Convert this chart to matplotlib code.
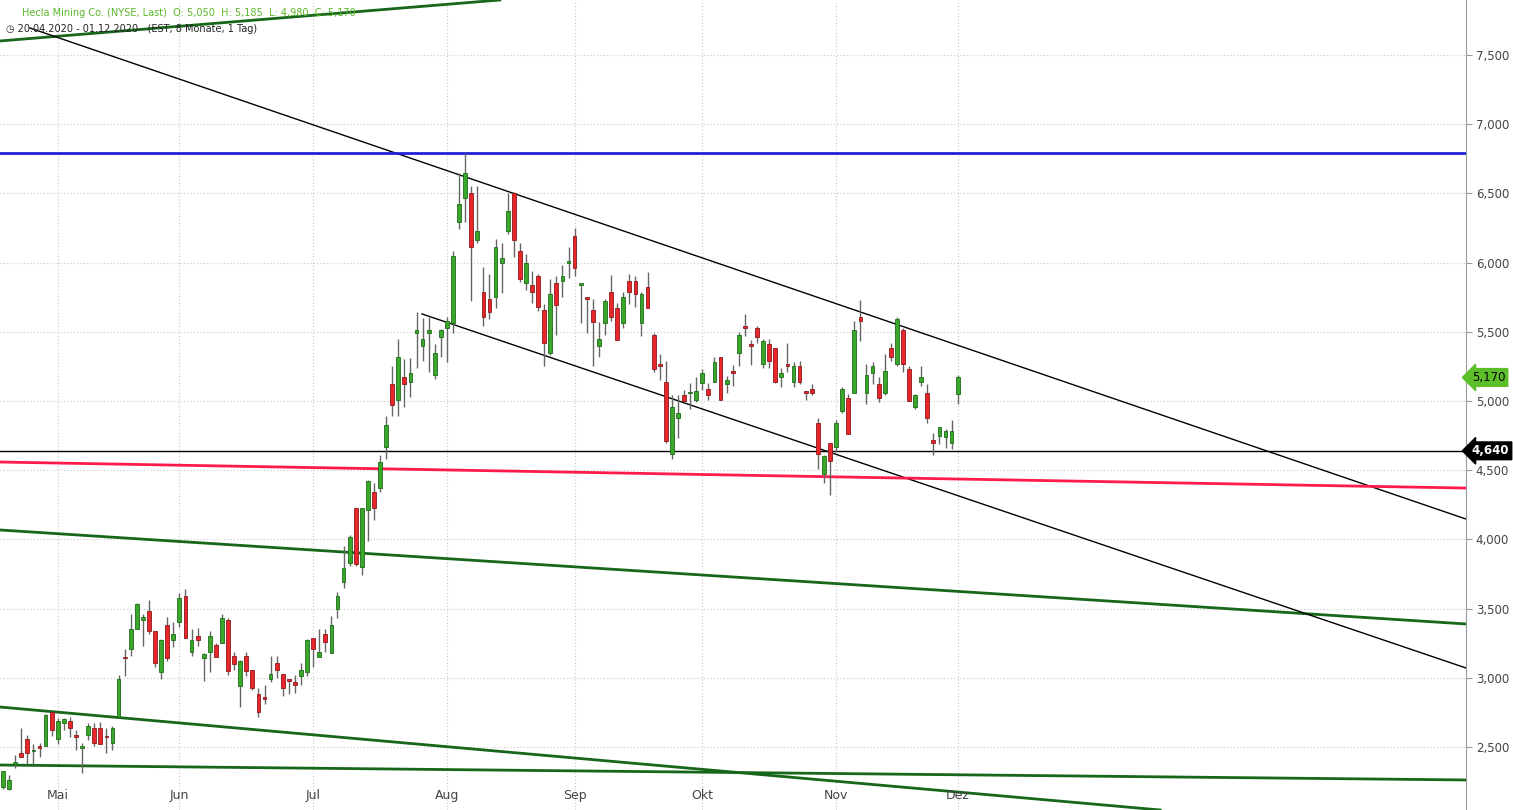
import matplotlib
matplotlib.use("Agg")
import matplotlib.pyplot as plt
import numpy as np

ohlc = [
(2.21,2.33,2.20,2.33),(2.20,2.30,2.19,2.26),(2.38,2.44,2.35,2.39),(2.46,2.64,2.43,2.43),(2.56,2.59,2.38,2.46),
(2.47,2.52,2.38,2.48),(2.51,2.53,2.43,2.49),(2.51,2.74,2.51,2.73),(2.75,2.76,2.58,2.62),(2.56,2.71,2.52,2.69),
(2.67,2.71,2.62,2.70),(2.69,2.72,2.57,2.64),(2.59,2.62,2.48,2.57),(2.49,2.53,2.31,2.51),(2.59,2.67,2.55,2.65),
(2.64,2.67,2.51,2.53),(2.64,2.68,2.52,2.52),(2.575,2.64,2.46,2.57),(2.53,2.65,2.48,2.64),(2.72,3.02,2.72,2.99),
(3.145,3.21,3.01,3.14),(3.21,3.46,3.16,3.35),(3.35,3.54,3.35,3.53),(3.42,3.46,3.23,3.44),(3.48,3.56,3.32,3.34),
(3.34,3.34,3.08,3.11),(3.04,3.28,2.99,3.27),(3.38,3.44,3.12,3.14),(3.27,3.40,3.22,3.32),(3.40,3.61,3.37,3.58),
(3.59,3.64,3.29,3.29),(3.19,3.35,3.16,3.27),(3.30,3.36,3.23,3.27),(3.14,3.18,2.98,3.17),(3.19,3.34,3.04,3.30),
(3.24,3.25,3.15,3.15),(3.25,3.46,3.25,3.43),(3.42,3.43,3.02,3.05),(3.16,3.19,3.06,3.10),(2.94,3.13,2.79,3.12),
(3.16,3.19,3.01,3.05),(3.06,3.06,2.91,2.93),(2.88,2.93,2.72,2.75),(2.855,2.95,2.81,2.85),(2.99,3.16,2.97,3.03),
(3.11,3.16,3.00,3.06),(3.03,3.03,2.87,2.93),(2.985,2.99,2.88,2.98),(2.97,3.02,2.89,2.95),(3.01,3.11,2.95,3.06),
(3.04,3.28,3.01,3.27),(3.29,3.29,3.08,3.21),(3.15,3.35,3.15,3.19),(3.32,3.35,3.19,3.26),(3.18,3.45,3.18,3.38),
(3.50,3.62,3.43,3.59),(3.69,3.95,3.65,3.79),(3.83,4.03,3.81,4.02),(4.23,4.23,3.81,3.82),(3.80,4.23,3.74,4.23),
(4.21,4.43,3.99,4.42),(4.34,4.41,4.14,4.23),(4.37,4.61,4.34,4.56),(4.67,4.89,4.58,4.83),(5.12,5.25,4.89,4.97),
(5.01,5.45,4.89,5.32),(5.17,5.30,4.96,5.12),(5.14,5.31,5.03,5.20),(5.49,5.64,5.24,5.51),(5.40,5.60,5.29,5.45),
(5.49,5.61,5.21,5.51),(5.19,5.41,5.16,5.35),(5.46,5.52,5.32,5.51),(5.53,5.61,5.28,5.58),(5.56,6.08,5.49,6.05),
(6.29,6.65,6.24,6.42),(6.47,6.79,6.29,6.65),(6.50,6.55,5.72,6.11),(6.16,6.55,6.14,6.23),(5.79,5.97,5.54,5.61),
(5.74,5.92,5.59,5.64),(5.75,6.17,5.67,6.11),(6.00,6.14,5.78,6.03),(6.23,6.50,6.21,6.37),(6.50,6.51,6.04,6.16),
(6.08,6.14,5.86,5.88),(5.85,6.06,5.80,6.00),(5.84,5.94,5.71,5.79),(5.90,5.92,5.65,5.68),(5.66,5.70,5.25,5.42),
(5.35,5.88,5.33,5.77),(5.85,5.90,5.48,5.69),(5.87,5.98,5.75,5.90),(6.00,6.11,5.89,6.01),(6.19,6.25,5.90,5.96),
(5.84,5.845,5.56,5.845),(5.745,5.75,5.49,5.74),(5.66,5.74,5.25,5.57),(5.40,5.57,5.32,5.45),(5.56,5.74,5.48,5.72),
(5.79,5.91,5.58,5.61),(5.67,5.71,5.44,5.44),(5.56,5.79,5.53,5.75),(5.87,5.92,5.70,5.79),(5.87,5.90,5.68,5.77),
(5.56,5.79,5.47,5.77),(5.82,5.93,5.67,5.67),(5.48,5.49,5.21,5.23),(5.27,5.34,5.15,5.25),(5.14,5.29,4.70,4.71),
(4.62,5.04,4.58,4.96),(4.88,5.04,4.73,4.91),(5.04,5.08,4.99,5.00),(5.055,5.13,4.94,5.065),(5.01,5.17,4.99,5.07),
(5.13,5.23,5.08,5.20),(5.09,5.13,5.01,5.04),(5.14,5.32,5.14,5.28),(5.32,5.32,5.01,5.01),(5.12,5.18,5.06,5.15),
(5.22,5.26,5.11,5.20),(5.35,5.50,5.25,5.48),(5.54,5.63,5.47,5.53),(5.41,5.44,5.26,5.40),(5.53,5.54,5.42,5.46),
(5.27,5.45,5.24,5.43),(5.41,5.45,5.24,5.29),(5.38,5.38,5.13,5.14),(5.17,5.24,5.10,5.20),(5.27,5.42,5.21,5.25),
(5.14,5.28,5.10,5.25),(5.25,5.29,5.12,5.14),(5.065,5.07,5.01,5.06),(5.09,5.12,5.04,5.06),(4.84,4.88,4.51,4.62),
(4.47,4.61,4.41,4.60),(4.70,4.70,4.32,4.57),(4.67,4.86,4.63,4.84),(4.93,5.10,4.91,5.09),(5.02,5.05,4.76,4.76),
(5.06,5.58,5.06,5.51),(5.61,5.73,5.43,5.58),(5.06,5.27,4.98,5.19),(5.20,5.28,5.12,5.25),(5.12,5.17,4.99,5.02),
(5.06,5.34,5.04,5.22),(5.38,5.42,5.29,5.32),(5.27,5.61,5.25,5.59),(5.51,5.53,5.21,5.27),(5.23,5.25,5.00,5.00),
(4.96,5.05,4.94,5.04),(5.14,5.25,5.11,5.17),(5.06,5.12,4.84,4.88),(4.72,4.77,4.61,4.70),(4.75,4.81,4.69,4.81),
(4.74,4.80,4.66,4.78),(4.70,4.86,4.65,4.78),(5.05,5.185,4.98,5.17),
]
opens = [r[0] for r in ohlc]
highs = [r[1] for r in ohlc]
lows = [r[2] for r in ohlc]
closes = [r[3] for r in ohlc]

month_labels = ["Mai", "Jun", "Jul", "Aug", "Sep", "Okt", "Nov", "Dez"]
month_idx = [9, 29, 51, 73, 94, 115, 137, 157]
yticks = [2.5, 3.0, 3.5, 4.0, 4.5, 5.0, 5.5, 6.0, 6.5, 7.0, 7.5]

green_lines = [(-0.5, 4.068, 240.6, 3.389), (-0.5, 2.789, 190.3, 2.045),
               (-0.5, 2.370, 240.6, 2.262), (-0.5, 7.601, 81.7, 7.897)]
black_lines = [(4.4, 7.695, 240.6, 4.147), (68.9, 5.629, 240.6, 3.071)]
red_line = (-0.5, 4.559, 240.6, 4.371)
blue_level = 6.79
black_level = 4.64
last_close = 5.17

W, H = 1513, 810
fig = plt.figure(figsize=(W/100, H/100), dpi=100)
ax = fig.add_axes([0, 0, 1466/W, 1])
ax.set_xlim(-0.5, 240.6)
ax.set_ylim(2.045, 7.897)

for y in yticks:
    ax.axhline(y, color="#c8c8c8", lw=0.8, ls=(0, (1, 2)), zorder=0)
for m in month_idx:
    ax.axvline(m, color="#c8c8c8", lw=0.8, ls=(0, (1, 2)), zorder=0)

for (x0, y0, x1, y1) in green_lines:
    ax.plot([x0, x1], [y0, y1], color="#17661a", lw=2, zorder=2)
for (x0, y0, x1, y1) in black_lines:
    ax.plot([x0, x1], [y0, y1], color="black", lw=1, zorder=2)
ax.plot([red_line[0], red_line[2]], [red_line[1], red_line[3]], color="#ff1a4a", lw=2, zorder=2)
ax.axhline(blue_level, color="#2020d8", lw=2, zorder=2)
ax.axhline(black_level, color="black", lw=1, zorder=2)

x = np.arange(len(opens))
for i in x:
    o, h, l, c = opens[i], highs[i], lows[i], closes[i]
    up = c >= o
    fc = "#3aa62a" if up else "#e8262b"
    ec = "#1f6b1a" if up else "#8a1a1a"
    ax.vlines(i, l, h, color="#666666", lw=1, zorder=3)
    hgt = max(abs(c - o), 0.012)
    ax.bar(i, hgt, bottom=min(o, c), width=0.62, color=fc, edgecolor=ec, lw=0.6, zorder=4)

for s in ["top", "left", "bottom"]:
    ax.spines[s].set_visible(False)
ax.spines["right"].set_color("#999999")
ax.yaxis.tick_right()
ax.set_yticks(yticks)
ax.set_yticklabels([f"{v:.3f}".replace(".", ",") for v in yticks], color="#444444", fontsize=8.5)
ax.tick_params(axis="y", length=4, color="#999999", pad=3)
ax.set_xticks([])

for m, lab in zip(month_idx, month_labels):
    ax.text(m, 2.045 + 0.06, lab, ha="center", va="bottom", fontsize=9, color="#444444")

ax.text(1.004, last_close, "5,170", transform=ax.get_yaxis_transform(), ha="left", va="center",
        fontsize=8.5, color="black",
        bbox=dict(boxstyle="larrow,pad=0.2", fc="#5cbf2a", ec="#5cbf2a"), clip_on=False)
ax.text(1.004, black_level, "4,640", transform=ax.get_yaxis_transform(), ha="left", va="center",
        fontsize=8.5, color="white", fontweight="bold",
        bbox=dict(boxstyle="larrow,pad=0.2", fc="black", ec="black"), clip_on=False)

fig.text(22/W, 1-13/H, "Hecla Mining Co. (NYSE, Last)  O: 5,050  H: 5,185  L: 4,980  C: 5,170",
         color="#5cb82a", fontsize=7.0, va="center", ha="left")
fig.text(6/W, 1-29/H, "◷ 20.04.2020 - 01.12.2020   (EST, 8 Monate, 1 Tag)",
         color="#222222", fontsize=7.0, va="center", ha="left")

fig.savefig("out.png", dpi=100)
